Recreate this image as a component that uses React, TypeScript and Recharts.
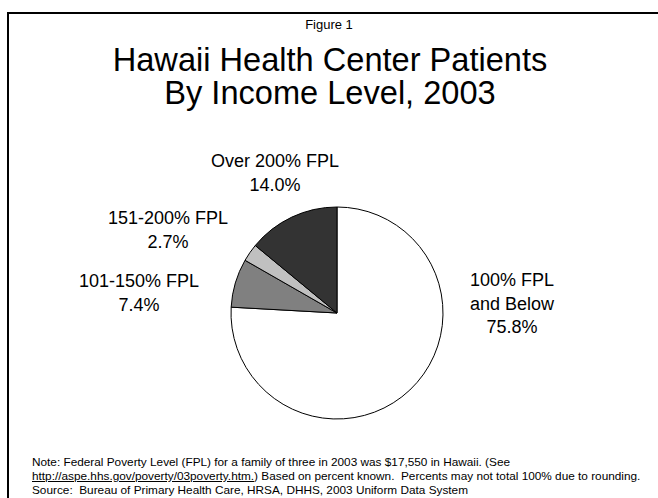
import React from 'react';
import { PieChart, Pie, Cell } from 'recharts';

// income groups, clockwise from 12 o'clock
const groups = ['100% FPL and Below', '101-150% FPL', '151-200% FPL', 'Over 200% FPL'];
const shares = [75.8, 7.4, 2.7, 14.0];
const labelLines = [
  ['100% FPL', 'and Below'],
  ['101-150% FPL'],
  ['151-200% FPL'],
  ['Over 200% FPL'],
];
const sliceColors = ['#ffffff', '#808080', '#c0c0c0', '#333333'];

// where each label sits, relative to the pie centre (first baseline)
const labelOffsets = [
  { dx: 175, dy: -27 },
  { dx: -198, dy: -26 },
  { dx: -169, dy: -89 },
  { dx: -62, dy: -146 },
];

const data = groups.map((name, i) => ({ name, value: shares[i] }));

const font = '"Liberation Sans", Arial, sans-serif';

const renderLabel = (props: any) => {
  const { cx, cy, index } = props;
  const off = labelOffsets[index];
  const lines = [...labelLines[index], `${shares[index].toFixed(1)}%`];
  return (
    <text
      key={`lbl-${index}`}
      x={cx + off.dx}
      y={cy + off.dy}
      textAnchor="middle"
      fontFamily={font}
      fontSize={18}
      fill="#000"
    >
      {lines.map((t, j) => (
        <tspan key={j} x={cx + off.dx} dy={j === 0 ? 0 : 23.5}>
          {t}
        </tspan>
      ))}
    </text>
  );
};

export default function App() {
  return (
    <div
      style={{
        position: 'absolute',
        left: 0,
        top: 0,
        width: 658,
        height: 498,
        background: '#fff',
        overflow: 'hidden',
        fontFamily: font,
      }}
    >
      <div
        style={{
          position: 'absolute',
          left: 7,
          top: 12,
          width: 700,
          height: 600,
          borderLeft: '2px solid #000',
          borderTop: '2px solid #000',
        }}
      />
      <div style={{ position: 'absolute', left: 0, width: 658, top: 17, textAlign: 'center', fontSize: 13 }}>
        Figure 1
      </div>
      <div
        style={{
          position: 'absolute',
          left: 0,
          width: 660,
          top: 43,
          textAlign: 'center',
          fontSize: 32.6,
          lineHeight: '33px',
        }}
      >
        Hawaii Health Center Patients
        <br />
        By Income Level, 2003
      </div>
      <div style={{ position: 'absolute', left: 0, top: 0 }}>
        <PieChart width={658} height={498} margin={{ top: 0, right: 0, bottom: 0, left: 0 }}>
          <Pie
            data={data}
            dataKey="value"
            nameKey="name"
            cx={337}
            cy={313}
            outerRadius={106}
            startAngle={90}
            endAngle={-270}
            stroke="#000"
            strokeWidth={1}
            label={renderLabel}
            labelLine={false}
            isAnimationActive={false}
          >
            {data.map((d, i) => (
              <Cell key={d.name} fill={sliceColors[i]} />
            ))}
          </Pie>
        </PieChart>
      </div>
      <div
        style={{
          position: 'absolute',
          left: 32,
          top: 455,
          fontSize: 11.8,
          lineHeight: '14px',
          whiteSpace: 'nowrap',
        }}
      >
        Note: Federal Poverty Level (FPL) for a family of three in 2003 was $17,550 in Hawaii. (See
        <br />
        <span style={{ textDecoration: 'underline' }}>http://aspe.hhs.gov/poverty/03poverty.htm.</span>) Based on percent
        known.&nbsp; Percents may not total 100% due to rounding.
        <br />
        Source:&nbsp; Bureau of Primary Health Care, HRSA, DHHS, 2003 Uniform Data System
      </div>
    </div>
  );
}
